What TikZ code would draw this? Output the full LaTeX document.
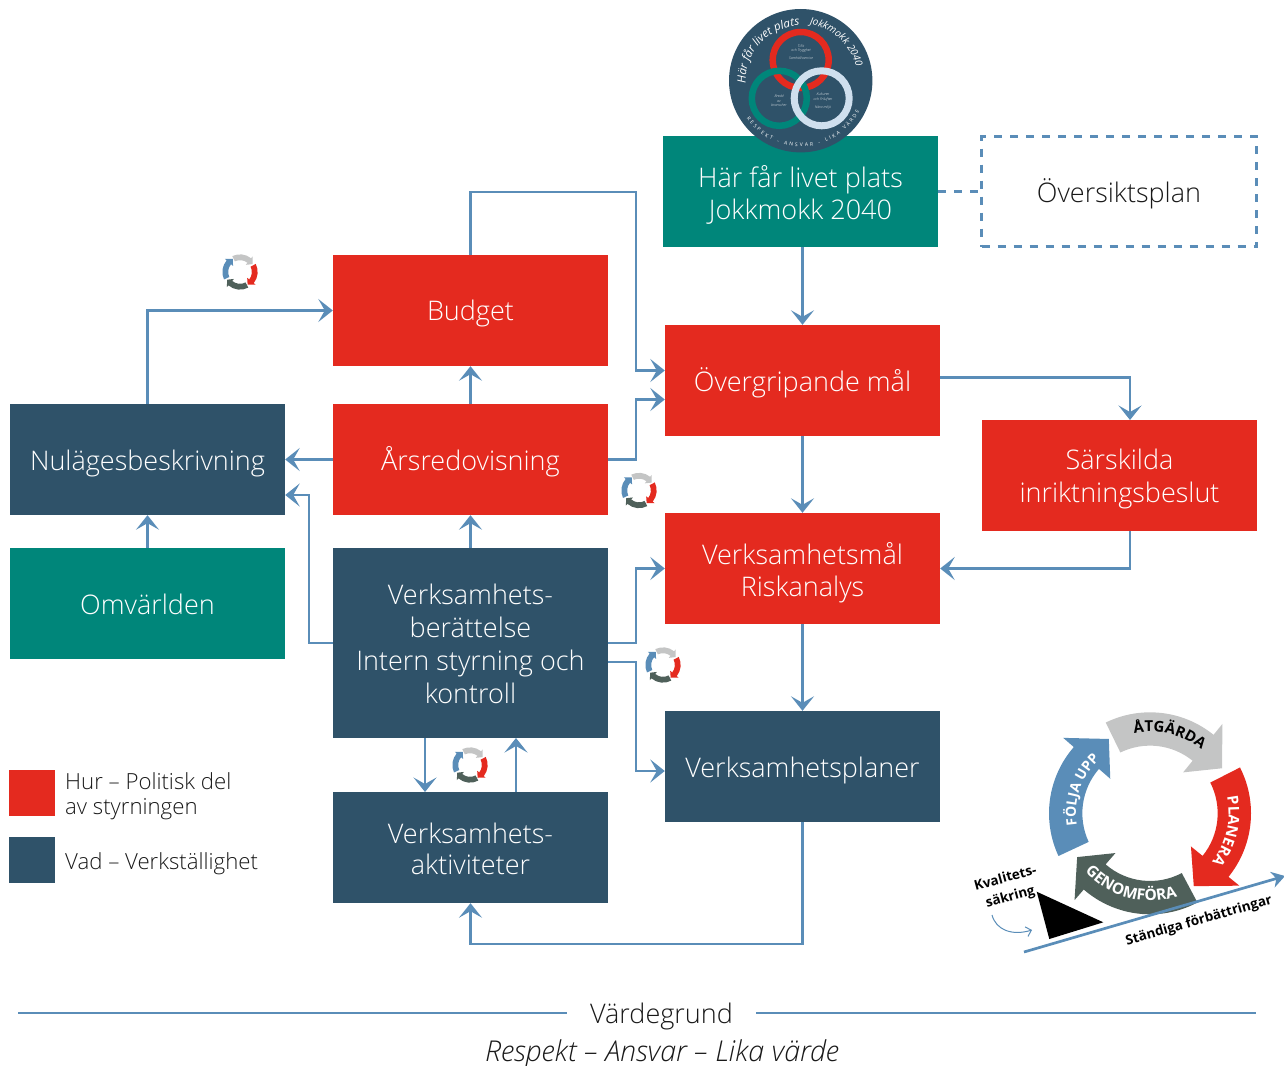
\documentclass[tikz,border=0pt]{standalone}
\usepackage{fontspec}
\setmainfont{Open Sans Light}[BoldFont={Open Sans Bold},ItalicFont={Open Sans Light Italic}]
\newfontfamily\opensb{Open Sans}
\usetikzlibrary{arrows.meta,calc,decorations.text}
\definecolor{cred}{HTML}{E42A1F}
\definecolor{cdark}{HTML}{2F5269}
\definecolor{cteal}{HTML}{00867A}
\definecolor{cblue}{HTML}{5A8DB8}
\definecolor{cgrey}{HTML}{C4C5C5}
\definecolor{cgreen}{HTML}{4F605A}
\definecolor{cpale}{HTML}{CFDFEE}
\newcommand{\boxfont}{\fontsize{27}{33}\selectfont}
% box text: last baseline #1 pt below the node centre
\newcommand{\bt}[2]{\raisebox{-#1pt}[0pt][0pt]{\vbox{\hsize=275pt\centering #2\par}}}
\newcommand{\cycseg}[4]{% colour, start, end, tip angle
  \fill[#1] (#2:303) arc[start angle=#2,end angle=#3,radius=303]
    -- (#3:345) -- (#4:255) -- (#3:158) -- (#3:203)
    arc[start angle=#3,end angle=#2,radius=203] -- cycle;}
\newcommand{\cycall}{%
  \cycseg{cgrey}{116}{51}{32}
  \cycseg{cred}{27}{-39}{-59}
  \cycseg{cgreen}{-62}{-131}{-149}
  \cycseg{cblue}{205}{139}{119}}
\newcommand{\minicyc}[1]{%
  \begin{scope}[shift={#1},x=.0583pt,y=.0583pt]\cycall\end{scope}}
\tikzset{
  box/.style={minimum width=275pt,minimum height=111pt,inner sep=0pt,
    text=white,font=\boxfont},
  redbox/.style={box,fill=cred},
  darkbox/.style={box,fill=cdark},
  tealbox/.style={box,fill=cteal},
  conn/.style={draw=cblue,line width=2.7pt,-{Stealth[length=14.5pt,width=23pt,inset=6.5pt]}},
  plainline/.style={draw=cblue,line width=2.7pt},
  dashline/.style={draw=cblue,line width=2.7pt,dash pattern=on 8pt off 8pt},
  ring/.style={line width=6.5pt,draw=#1},
  swatch/.style={minimum width=46pt,minimum height=46pt,inner sep=0pt},
  legend/.style={anchor=west,align=left,inner sep=0pt,font=\fontsize{22.2}{24.5}\selectfont,text=black!90},
  logotxt/.style={font=\fontsize{3.6}{4.6}\selectfont\itshape,text=white,align=center,inner sep=0pt}
}
\begin{document}
\begin{tikzpicture}[x=1pt,y=-1pt]
\useasboundingbox (0,0) rectangle (1284,1065);
% boxes
\node[tealbox] (hfp) at (800.5,191.5) {\bt{28}{\baselineskip=32pt Här får livet plats\\Jokkmokk 2040}};
\node[minimum width=275pt,minimum height=110pt,inner sep=0pt,dashline,
  font=\boxfont,text=black!90] (osp) at (1119,191.5) {\bt{10.5}{Översiktsplan}};
\node[redbox] (bud) at (470.5,310.5) {\bt{9.5}{Budget}};
\node[redbox] (ars) at (470.5,459.5) {\bt{10.5}{Årsredovisning}};
\node[redbox] (ovr) at (802.5,380.5) {\bt{10.5}{Övergripande mål}};
\node[redbox] (sar) at (1119.5,475.5) {\bt{27}{Särskilda\\inriktningsbeslut}};
\node[redbox] (vml) at (802.5,568.5) {\bt{27.5}{\baselineskip=32pt Verksamhetsmål\\Riskanalys}};
\node[darkbox] (vpl) at (802.5,766.5) {\bt{10.5}{Verksamhetsplaner}};
\node[darkbox] (nul) at (147.5,459.5) {\bt{10.5}{Nulägesbeskrivning}};
\node[tealbox] (omv) at (147.5,603.5) {\bt{10.5}{Omvärlden}};
\node[darkbox,minimum height=190pt] (vbe) at (470.5,643) {\bt{60}{Verksamhets-\\berättelse\\Intern styrning och\\kontroll}};
\node[darkbox] (vak) at (470.5,847.5) {\bt{27}{\baselineskip=31.5pt Verksamhets-\\aktiviteter}};
% logo
\fill[cdark] (800.7,80.7) circle[radius=71.7];
\draw[ring=cred] (800.7,60) circle[radius=28];
\draw[ring=cteal] (779.3,98.3) circle[radius=27.5];
\draw[line width=7pt,draw=cpale] (821.7,98.3) circle[radius=27.5];
\node[logotxt] (l1) at (801,52) {Tillit\\och Trygghet\\[3pt]Samhällsservice};
\node[logotxt] (l2) at (779,101) {Bredd\\av\\branscher};
\node[logotxt] (l3) at (823,101) {Kulturen\\och Friluften\\[3pt]Nära miljö};
\begin{scope}[shift={(800.7,80.7)},x=1pt,y=1pt]
\path[decorate,decoration={text along path,text align=center,
  text={|\fontsize{11.5}{13}\opensb\itshape\color{white}|Här får livet plats}}]
  (192:55) arc[start angle=192,end angle=82,radius=55];
\path[decorate,decoration={text along path,text align=center,
  text={|\fontsize{10}{11}\opensb\itshape\color{white}|Jokkmokk 2040}}]
  (97:57) arc[start angle=97,end angle=-2,radius=57];
\path[decorate,decoration={text along path,text align=fit to path,
  text={|\fontsize{5}{5.5}\opensb\color{white}|RESPEKT - ANSVAR - LIKA VÄRDE}}]
  (215:66) arc[start angle=215,end angle=333,radius=66];
\end{scope}
% connectors
\draw[dashline] (hfp.east) -- (osp.west);
\draw[conn] (hfp.south -| ovr.north) -- (ovr.north);
\coordinate (o1) at ($(ovr.west)+(0,-10)$);
\coordinate (o2) at ($(ovr.west)+(0,19)$);
\draw[conn] (bud.north) |- (636,192) -- (636,370.5) -- (o1);
\draw[conn] (ars.east) -- (636,459.5) -- (636,399.5) -- (o2);
\draw[conn] (ars.north) -- (bud.south);
\draw[conn] (nul.north) |- (bud.west);
\draw[conn] (ars.west) -- (nul.east);
\draw[conn] (omv.north) -- (nul.south);
\draw[conn] (vbe.north) -- (ars.south);
\coordinate (n2) at ($(nul.east)+(0,35.5)$);
\draw[conn] (vbe.west) -- (309,643) |- (n2);
\draw[conn] (vbe.east) -- (636,643) |- (vml.west);
\coordinate (v2) at ($(vbe.east)+(0,19)$);
\coordinate (v3) at ($(vpl.west)+(0,4.5)$);
\draw[conn] (v2) -- (636,662) |- (v3);
\draw[conn] (ovr.south) -- (vml.north);
\draw[conn] (vml.south) -- (vpl.north);
\coordinate (o3) at ($(ovr.east)+(0,-3)$);
\draw[conn] (o3) -| (1130,420);
\coordinate (s1) at (1130,531);
\draw[conn] (s1) |- (vml.east);
\draw[conn] (vpl.south) -- (802.5,944) -| (vak.south);
\coordinate (a1) at (425,738);\coordinate (a2) at (425,792);
\coordinate (a3) at (516,792);\coordinate (a4) at (516,738);
\draw[conn] (a1) -- (a2);
\draw[conn] (a3) -- (a4);
% mini cycles
\minicyc{(240,272)}
\minicyc{(639,490.5)}
\minicyc{(663,665)}
\minicyc{(470,765)}
% legend
\node[swatch,fill=cred] (s1b) at (32,793) {};
\node[swatch,fill=cdark] (s2b) at (32,860) {};
\node[legend] (t1) at (65,796) {Hur – Politisk del\\av styrningen};
\node[legend] (t2) at (65,864) {Vad – Verkställighet};
% value line
\node[font=\boxfont,text=black!90,inner sep=0pt,minimum width=189pt,minimum height=30pt] (vg) at (661.5,1013) {\raisebox{-10pt}[0pt][0pt]{Värdegrund}};
\node[font=\fontsize{28.7}{33}\selectfont\itshape,text=black!90,inner sep=0pt,minimum height=20pt] (rav) at (662,1051) {\raisebox{-10pt}[0pt][0pt]{Respekt – Ansvar – Lika värde}};
\coordinate (e1) at (18,1013);\coordinate (e2) at (1256,1013);
\draw[plainline] (e1) -- (vg.west);
\draw[plainline] (vg.east) -- (e2);
% quality cycle
\begin{scope}[shift={(1150,813.3)},x=.3333pt,y=.3333pt]
\cycall
\path[decorate,decoration={text along path,text align=center,
  text={|\fontsize{15}{16}\opensb\bfseries\color{black}|ÅTGÄRDA}}]
  (136:245) arc[start angle=136,end angle=16,radius=245];
\path[decorate,decoration={text along path,text align=center,
  text={|\fontsize{15}{16}\opensb\bfseries\color{white}|PLANERA}}]
  (47:236) arc[start angle=47,end angle=-73,radius=236];
\path[decorate,decoration={text along path,text align=center,
  text={|\fontsize{15.5}{16}\opensb\bfseries\color{white}|GENOMFÖRA}}]
  (195:262) arc[start angle=195,end angle=315,radius=262];
\path[decorate,decoration={text along path,text align=center,
  text={|\fontsize{14}{16}\opensb\bfseries\color{white}|FÖLJA UPP}}]
  (221:222) arc[start angle=221,end angle=101,radius=222];
\end{scope}
\fill[black] (1036.7,891.7) -- (1103.3,922.3) -- (1049.3,939) -- cycle;
\coordinate (b1) at (1024,952);\coordinate (b2) at (1285,876);
\draw[draw=cblue,line width=2.7pt,-{Stealth[length=13pt,width=16pt,inset=4pt]}] (b1) -- (b2);
\node[rotate=16,font=\fontsize{13.5}{18}\opensb\bfseries,inner sep=0pt] (st) at (1199,921) {Ständiga förbättringar};
\node[rotate=15,font=\fontsize{13.5}{19}\opensb\bfseries,align=center,inner sep=0pt] (kv) at (1008,888) {Kvalitets-\\säkring};
\coordinate (c1) at (992,915);\coordinate (c2) at (1032,930);
\draw[draw=cblue,line width=1pt,-{Straight Barb[length=5pt,width=10pt]}] (c1) .. controls (996,930) and (1012,936) .. (c2);
\end{tikzpicture}
\end{document}
